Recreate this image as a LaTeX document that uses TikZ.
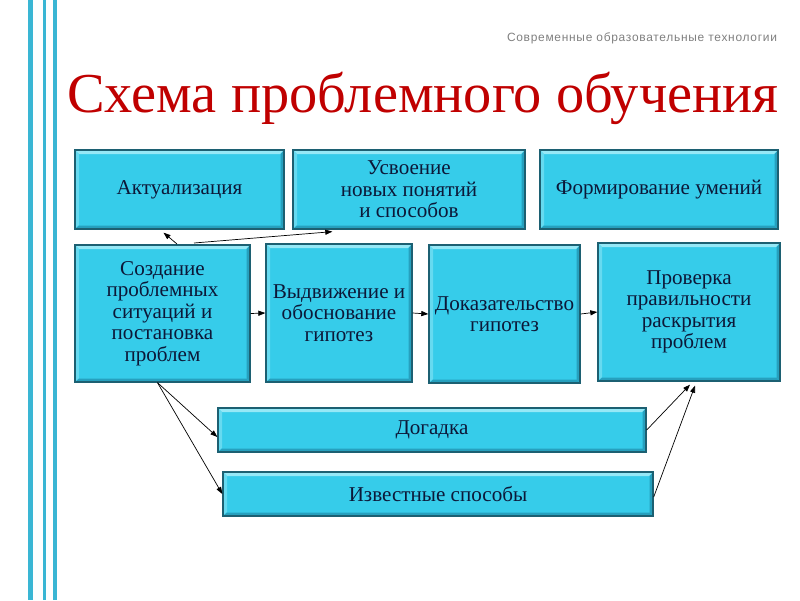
\documentclass[tikz,border=0pt]{standalone}
\usepackage{fontspec}
\setmainfont{Liberation Serif}
\newfontfamily\podpis[LetterSpace=6]{Liberation Sans}
\usetikzlibrary{arrows.meta,calc}
\definecolor{polosa}{RGB}{58,182,212}
\definecolor{zagl}{RGB}{192,0,0}
\definecolor{blokfill}{RGB}{54,204,234}
\definecolor{kant}{RGB}{28,96,114}
\definecolor{svet}{RGB}{150,232,246}
\definecolor{ten}{RGB}{38,160,190}
\definecolor{tekst}{RGB}{12,24,56}
\newcommand\bloktext{\fontsize{15}{15.3}\selectfont}
\tikzset{blok/.style={draw=kant, line width=0.9pt, fill=blokfill, text=tekst, align=center,
      inner sep=1pt, font=\bloktext,
      path picture={
        \fill[svet] (path picture bounding box.north west) -- (path picture bounding box.north east)
          -- ([shift={(-3pt,-3pt)}]path picture bounding box.north east)
          -- ([shift={(3pt,-3pt)}]path picture bounding box.north west) -- cycle;
        \fill[svet!50!blokfill] (path picture bounding box.north west) -- (path picture bounding box.south west)
          -- ([shift={(3pt,3pt)}]path picture bounding box.south west)
          -- ([shift={(3pt,-3pt)}]path picture bounding box.north west) -- cycle;
        \fill[ten] (path picture bounding box.south west) -- (path picture bounding box.south east)
          -- ([shift={(-2.5pt,2.5pt)}]path picture bounding box.south east)
          -- ([shift={(3pt,2.5pt)}]path picture bounding box.south west) -- cycle;
        \fill[ten] (path picture bounding box.north east) -- (path picture bounding box.south east)
          -- ([shift={(-2.5pt,2.5pt)}]path picture bounding box.south east)
          -- ([shift={(-2.5pt,-3pt)}]path picture bounding box.north east) -- cycle;
      }}}
\tikzset{strelka/.style={line width=0.5pt, -{Triangle[length=5pt,width=3.6pt]}}}

\begin{document}
\begin{tikzpicture}[x=0.025cm,y=-0.025cm]
  \fill[white] (0,0) rectangle (800,600);
  \useasboundingbox (0,0) rectangle (800,600);
  % polosy sleva
  \fill[polosa] (28.3,0) rectangle (33.3,600);
  \fill[polosa] (42.8,0) rectangle (46.1,600);
  \fill[polosa] (53.4,0) rectangle (56.7,600);

  \node[anchor=base east, text=black!50, font=\podpis\fontsize{8.5}{10}\selectfont] (tema) at (782,41)
    {Современные образовательные технологии};
  \node[anchor=base east, text=zagl, font=\fontsize{40.1}{46}\selectfont, inner sep=0pt] (zagolovok) at (779,112)
    {Схема проблемного обучения};

  \node[blok, minimum width=5.225cm, minimum height=1.975cm] (akt) at (179.5,189.5) {Актуализация};
  \node[blok, minimum width=5.8cm, minimum height=1.975cm] (usv) at (409,189.5) {Усвоение\\новых понятий\\и способов};
  \node[blok, minimum width=5.95cm, minimum height=1.975cm] (form) at (659,189.5) {Формирование умений};

  \node[blok, minimum width=4.375cm, minimum height=3.425cm] (sozd) at (162.5,313.5)
    {Создание\\проблемных\\ ситуаций и\\постановка\\проблем};
  \node[blok, minimum width=3.65cm, minimum height=3.45cm] (vydv) at (339,313) {Выдвижение и\\обоснование\\гипотез};
  \node[blok, minimum width=3.775cm, minimum height=3.45cm] (dok) at (504.5,314) {Доказательство\\гипотез};
  \node[blok, minimum width=4.55cm, minimum height=3.45cm] (prov) at (689,312)
    {Проверка\\правильности\\раскрытия\\проблем};

  \node[blok, minimum width=10.7cm, minimum height=1.1cm] (dog) at (432,430) {Догадка};
  \node[blok, minimum width=10.75cm, minimum height=1.1cm] (izv) at (438,494) {Известные способы};

  \coordinate (sA) at (177,244);
  \coordinate (sB) at (194,243);
  \draw[strelka] (sA) -- ($(akt.south)+(-16,3)$);
  \draw[strelka] (sB) -- ($(usv.south west)+(40,2)$);

  \draw[strelka] (sozd.east) -- (vydv.west);
  \draw[strelka] (vydv.east) -- (dok.west);
  \draw[strelka] (dok.east) -- (prov.west);

  \draw[strelka] ($(sozd.south)+(-5,0)$) -- ($(dog.west)+(0,7)$);
  \draw[strelka] ($(sozd.south)+(-5,0)$) -- (izv.west);
  \draw[strelka] (dog.east) -- ($(prov.south)+(1,3)$);
  \draw[strelka] ($(izv.east)+(0,3)$) -- ($(prov.south)+(6,4)$);
\end{tikzpicture}
\end{document}
